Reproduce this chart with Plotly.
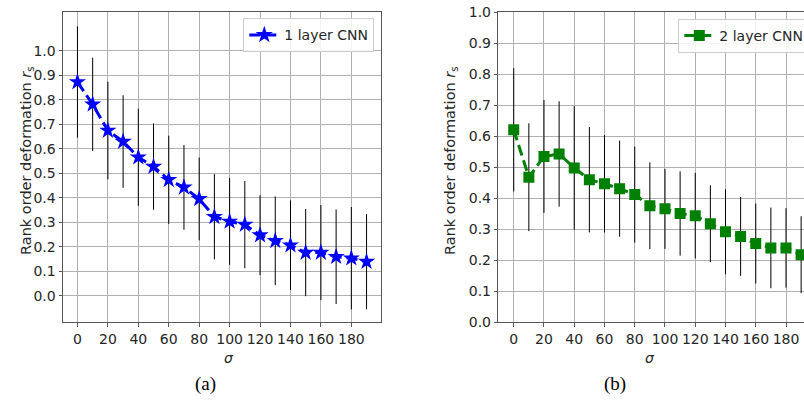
import plotly.graph_objects as go

sigma = [0, 10, 20, 30, 40, 50, 60, 70, 80, 90, 100, 110, 120, 130, 140, 150, 160, 170, 180, 190]

cnn1_mean = [0.873, 0.782, 0.675, 0.630, 0.566, 0.528, 0.474, 0.443, 0.396, 0.323,
             0.304, 0.291, 0.248, 0.225, 0.207, 0.177, 0.177, 0.160, 0.154, 0.140]
cnn1_std = [0.227, 0.190, 0.199, 0.189, 0.198, 0.176, 0.180, 0.173, 0.169, 0.174,
            0.177, 0.178, 0.163, 0.181, 0.183, 0.178, 0.194, 0.193, 0.209, 0.194]

cnn2_mean = [0.621, 0.468, 0.535, 0.543, 0.498, 0.460, 0.447, 0.431, 0.412, 0.376,
             0.366, 0.351, 0.344, 0.318, 0.292, 0.277, 0.254, 0.240, 0.240, 0.218]
cnn2_std = [0.199, 0.174, 0.182, 0.170, 0.199, 0.170, 0.157, 0.155, 0.155, 0.140,
            0.129, 0.136, 0.138, 0.124, 0.137, 0.127, 0.129, 0.130, 0.128, 0.124]

x_ticks = [0, 20, 40, 60, 80, 100, 120, 140, 160, 180]
y_ticks = [0.0, 0.1, 0.2, 0.3, 0.4, 0.5, 0.6, 0.7, 0.8, 0.9, 1.0]
y_ticktext = ["%.1f" % v for v in y_ticks]

W, H = 804, 411
FONT = "DejaVu Sans"
TXT = "#262626"
SPINE = "#555555"
GRID = "#b0b0b0"

fig = go.Figure()

fig.add_trace(go.Scatter(
    x=sigma, y=cnn1_mean, name="1 layer CNN", mode="lines+markers",
    line=dict(color="#0000ff", width=3, dash="11px,5px"),
    marker=dict(symbol="star", size=13, color="#0000ff"),
    error_y=dict(type="data", array=cnn1_std, color="black", thickness=1, width=0),
    xaxis="x", yaxis="y", legend="legend",
))
fig.add_trace(go.Scatter(
    x=sigma, y=cnn2_mean, name="2 layer CNN", mode="lines+markers",
    line=dict(color="#008000", width=3, dash="11px,5px"),
    marker=dict(symbol="square", size=11, color="#008000"),
    error_y=dict(type="data", array=cnn2_std, color="black", thickness=1, width=0),
    xaxis="x2", yaxis="y2", legend="legend2",
))

ydom = [1 - 322.3 / H, 1 - 12.3 / H]

axis_common = dict(
    showgrid=True, gridcolor=GRID, gridwidth=1, zeroline=False,
    showline=True, linecolor=SPINE, linewidth=1,
    ticks="outside", ticklen=3.5, tickwidth=1, tickcolor=SPINE,
    tickfont=dict(family=FONT, size=14, color=TXT),
)

fig.update_layout(
    width=W, height=H,
    margin=dict(l=0, r=0, t=0, b=0, autoexpand=False),
    paper_bgcolor="white", plot_bgcolor="white",
    xaxis=dict(domain=[63 / W, 381 / W], range=[-9.5, 199.5], tickvals=x_ticks,
               mirror=True, anchor="y", **axis_common),
    yaxis=dict(domain=ydom, range=[-0.1075, 1.1575], tickvals=y_ticks, ticktext=y_ticktext,
               mirror=True, anchor="x", **axis_common),
    xaxis2=dict(domain=[498.3 / W, 1.0], range=[-10.2, 191.9], tickvals=x_ticks,
                mirror=True, anchor="y2", **axis_common),
    yaxis2=dict(domain=ydom, range=[0, 1.0], tickvals=y_ticks, ticktext=y_ticktext,
                mirror=False, anchor="x2", **axis_common),
    legend=dict(x=243.3 / W, y=1 - 18.3 / H, xanchor="left", yanchor="top",
                bgcolor="rgba(255,255,255,0.85)", bordercolor="#cccccc", borderwidth=1,
                font=dict(family=FONT, size=14, color=TXT)),
    legend2=dict(x=678.3 / W, y=1 - 19 / H, xanchor="left", yanchor="top",
                 bgcolor="rgba(255,255,255,0.85)", bordercolor="#cccccc", borderwidth=1,
                 font=dict(family=FONT, size=14, color=TXT)),
    showlegend=True,
)

ytitle = "Rank order deformation <i>r</i><sub>s</sub>"
ann_font = dict(family=FONT, size=14.5, color=TXT)
fig.add_annotation(text=ytitle, x=16 / W, y=1 - 161 / H, xref="paper", yref="paper",
                   showarrow=False, textangle=-90, font=ann_font)
fig.add_annotation(text=ytitle, x=451 / W, y=1 - 161 / H, xref="paper", yref="paper",
                   showarrow=False, textangle=-90, font=ann_font)
fig.add_annotation(text="<i>σ</i>", x=222 / W, y=1 - 358 / H, xref="paper", yref="paper",
                   showarrow=False, yanchor="middle", font=dict(family=FONT, size=14, color=TXT))
fig.add_annotation(text="<i>σ</i>", x=657 / W, y=1 - 358 / H, xref="paper", yref="paper",
                   showarrow=False, yanchor="middle", font=dict(family=FONT, size=14, color=TXT))
cap_font = dict(family="Liberation Serif", size=19, color="black")
fig.add_annotation(text="(a)", x=192.5 / W, y=1 - 397 / H, xref="paper", yref="paper",
                   showarrow=False, font=cap_font)
fig.add_annotation(text="(b)", x=627.5 / W, y=1 - 397 / H, xref="paper", yref="paper",
                   showarrow=False, font=cap_font)

fig.write_html("out.html")
